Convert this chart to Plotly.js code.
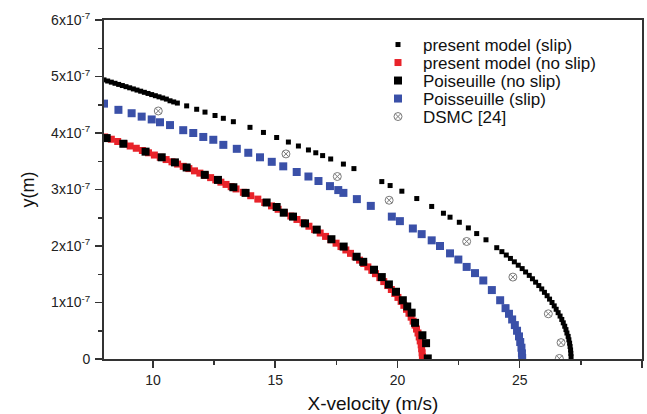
<!DOCTYPE html>
<html>
<head>
<meta charset="utf-8">
<script src="https://cdn.plot.ly/plotly-3.0.1.min.js"></script>
<style>html,body{margin:0;padding:0;background:#fff}#chart{width:647px;height:414px}</style>
</head>
<body>
<div id="chart"></div>
<script>
// y values are in units of 1e-7 m
const slipModelX = [8.00,8.15,8.30,8.45,8.60,8.75,8.90,9.05,9.20,9.35,9.50,9.65,9.80,9.95,10.10,10.25,10.40,10.55,10.70,10.85,11.00,
  11.38,11.79,12.13,12.54,12.88,13.29,13.97,14.52,15.06,15.54,15.95,16.36,16.66,16.94,17.27,17.79,18.22,19.36,19.70,20.18,20.79,21.40,21.88,22.15,22.53,22.90,23.24,23.62,24.06,
  24.27,24.45,24.62,24.78,24.94,25.10,25.24,25.39,25.52,25.65,25.78,25.90,26.01,26.12,26.22,26.32,26.41,26.49,26.57,26.65,26.72,26.78,26.84,26.89,26.93,26.98,27.01,27.04,27.06,27.08,27.09,27.10];
const slipModelY = [4.94,4.92,4.90,4.88,4.86,4.84,4.82,4.80,4.78,4.76,4.74,4.72,4.70,4.68,4.66,4.64,4.62,4.60,4.57,4.55,4.53,
  4.48,4.42,4.37,4.31,4.26,4.20,4.10,4.01,3.92,3.84,3.77,3.70,3.65,3.60,3.54,3.45,3.37,3.14,3.07,2.97,2.84,2.70,2.58,2.51,2.42,2.32,2.22,2.11,1.97,
  1.90,1.84,1.78,1.72,1.66,1.60,1.54,1.48,1.42,1.36,1.30,1.24,1.18,1.12,1.06,1.00,0.94,0.88,0.82,0.76,0.70,0.64,0.58,0.52,0.46,0.40,0.34,0.28,0.22,0.16,0.10,0.04];

const noSlipModelX = [8.03,8.30,8.56,8.82,9.07,9.32,9.57,9.82,10.06,10.30,10.54,10.78,11.01,11.24,11.47,11.70,11.92,12.14,12.36,12.57,12.78,12.99,13.20,13.40,
  13.70,14.00,14.29,14.57,14.85,15.12,15.38,15.64,15.89,16.14,16.38,16.61,16.84,17.06,17.28,17.49,17.69,17.89,18.08,18.27,18.45,18.62,18.79,18.95,19.10,
  19.28,19.44,19.60,19.75,19.89,20.02,20.15,20.26,20.37,20.47,20.56,20.64,20.72,20.78,20.84,20.89,20.93,20.97,20.99,21.01,21.02];
const noSlipModelY = [3.93,3.89,3.85,3.81,3.77,3.73,3.69,3.65,3.61,3.57,3.53,3.49,3.45,3.41,3.37,3.33,3.29,3.25,3.21,3.17,3.13,3.09,3.05,3.01,
  2.95,2.89,2.83,2.77,2.71,2.65,2.59,2.53,2.47,2.41,2.35,2.29,2.23,2.17,2.11,2.05,1.99,1.93,1.87,1.81,1.75,1.69,1.63,1.57,1.51,
  1.44,1.37,1.30,1.23,1.16,1.09,1.02,0.95,0.88,0.81,0.74,0.67,0.60,0.53,0.46,0.39,0.32,0.25,0.18,0.11,0.04];

const poisNoSlipX = [8.11,8.79,9.70,10.36,10.90,11.38,12.12,12.66,13.29,13.79,14.65,15.06,15.35,15.73,16.22,16.70,17.30,17.80,18.33,18.60,19.04,19.36,19.65,19.94,20.22,20.40,20.58,20.72,21.02,21.17,21.24];
const poisNoSlipY = [3.91,3.81,3.67,3.57,3.48,3.39,3.26,3.17,3.04,2.94,2.77,2.69,2.59,2.52,2.40,2.29,2.12,1.99,1.81,1.72,1.58,1.45,1.32,1.19,1.04,0.93,0.82,0.64,0.42,0.28,0.01];

const poisSlipX = [8.00,8.59,9.13,9.54,9.95,10.29,10.70,11.24,11.65,12.06,12.47,12.88,13.43,13.90,14.38,14.86,15.33,15.88,16.36,16.77,17.24,17.58,17.79,18.34,18.91,19.77,20.10,20.63,20.99,21.40,21.74,22.15,22.49,22.83,23.17,23.51,23.86,24.20,
  24.42,24.56,24.69,24.80,24.89,24.97,25.02,25.07,25.09,25.10];
const poisSlipY = [4.52,4.41,4.35,4.29,4.24,4.19,4.14,4.05,4.00,3.93,3.88,3.79,3.72,3.65,3.57,3.49,3.41,3.31,3.23,3.15,3.06,2.99,2.94,2.83,2.71,2.52,2.44,2.31,2.21,2.10,2.00,1.87,1.76,1.63,1.52,1.39,1.22,1.04,
  0.90,0.80,0.70,0.60,0.50,0.40,0.30,0.20,0.10,0.02];

const dsmcX = [10.22,15.44,17.54,19.66,22.83,24.72,26.17,26.69,26.62];
const dsmcY = [4.39,3.63,3.23,2.81,2.08,1.45,0.80,0.29,0.01];

const seriesNames = ['present model (slip)','present model (no slip)','Poiseuille (no slip)','Poisseuille (slip)','DSMC [24]'];
const xTickVals = [10,15,20,25,30];
const yTickVals = [0,1e-7,2e-7,3e-7,4e-7,5e-7,6e-7];
const yTickText = ['0','1x10<sup>-7</sup>','2x10<sup>-7</sup>','3x10<sup>-7</sup>','4x10<sup>-7</sup>','5x10<sup>-7</sup>','6x10<sup>-7</sup>'];

const toM = a => a.map(v => v * 1e-7);
const legendIds = ['legend','legend2','legend3','legend4','legend5'];

const traces = [
  {x: slipModelX, y: toM(slipModelY), name: seriesNames[0], mode: 'markers', type: 'scatter', legend: legendIds[0],
   marker: {symbol: 'square', size: 5, color: '#000000'}},
  {x: noSlipModelX, y: toM(noSlipModelY), name: seriesNames[1], mode: 'markers', type: 'scatter', legend: legendIds[1],
   marker: {symbol: 'square', size: 7, color: '#e8232a'}},
  {x: poisNoSlipX, y: toM(poisNoSlipY), name: seriesNames[2], mode: 'markers', type: 'scatter', legend: legendIds[2],
   marker: {symbol: 'square', size: 8, color: '#000000'}},
  {x: poisSlipX, y: toM(poisSlipY), name: seriesNames[3], mode: 'markers', type: 'scatter', legend: legendIds[3],
   marker: {symbol: 'square', size: 8, color: '#3a50a8'}},
  {x: dsmcX, y: toM(dsmcY), name: seriesNames[4], mode: 'markers', type: 'scatter', legend: legendIds[4],
   marker: {symbol: 'circle-x-open', size: 8, color: '#7a7a7a', line: {width: 1}}}
];

const axisFont = {family: 'Liberation Sans, Arial, sans-serif', size: 14, color: '#222'};
const legendRowsY = [0.9263, 0.8732, 0.8201, 0.7670, 0.7139];
const layout = {
  width: 647, height: 414,
  margin: {l: 104, r: 5, t: 20, b: 55},
  paper_bgcolor: '#fff', plot_bgcolor: '#fff',
  font: {family: 'Liberation Sans, Arial, sans-serif', color: '#222'},
  showlegend: true,
  xaxis: {
    range: [8, 30], tickvals: xTickVals, ticks: 'outside', ticklen: 7, tickwidth: 1.5, tickcolor: '#333',
    showline: true, linecolor: '#333', linewidth: 2, mirror: true, showgrid: false, zeroline: false,
    tickfont: axisFont,
    minor: {ticks: 'outside', ticklen: 4, tickwidth: 1.5, tickcolor: '#333', dtick: 2.5, tick0: 0, showgrid: false},
    title: {text: 'X-velocity (m/s)', font: {size: 19, color: '#111'}, standoff: 10}
  },
  yaxis: {
    range: [0, 6e-7], tickvals: yTickVals, ticktext: yTickText, ticks: 'outside', ticklen: 7, tickwidth: 1.5, tickcolor: '#333',
    showline: true, linecolor: '#333', linewidth: 2, mirror: true, showgrid: false, zeroline: false,
    tickfont: axisFont, ticklabelstandoff: 2,
    minor: {ticks: 'outside', ticklen: 4, tickwidth: 1.5, tickcolor: '#333', dtick: 0.5e-7, tick0: 0, showgrid: false},
    title: {text: 'y(m)', font: {size: 18, color: '#111'}, standoff: 12}
  }
};
legendIds.forEach((id, i) => {
  layout[id] = {x: 0.5, y: legendRowsY[i], xanchor: 'left', yanchor: 'middle', bgcolor: 'rgba(0,0,0,0)',
    font: {size: 17, color: '#111'}, itemwidth: 40, itemsizing: 'trace', borderwidth: 0};
});

Plotly.newPlot('chart', traces, layout, {displayModeBar: false, staticPlot: true});
</script>
</body>
</html>
